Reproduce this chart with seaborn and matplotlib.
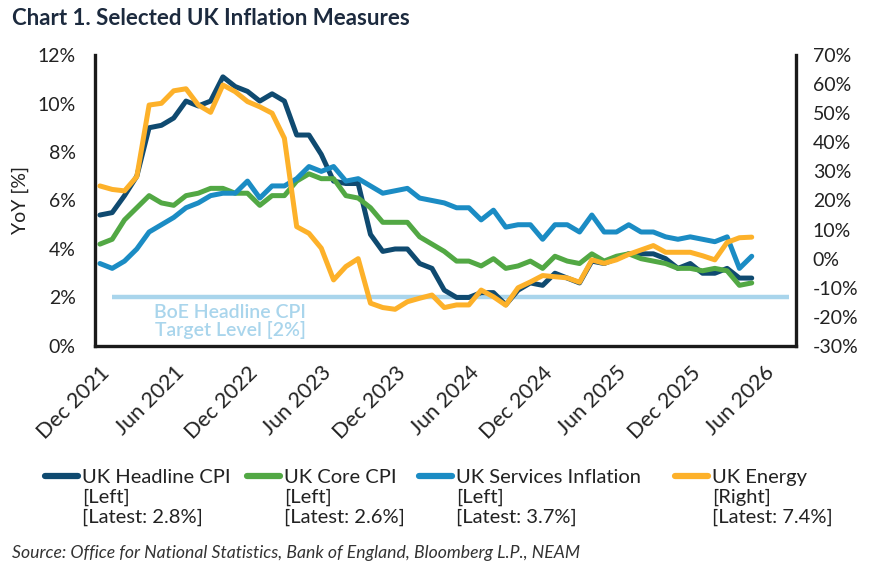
import numpy as np
import pandas as pd
import seaborn as sns
import matplotlib.pyplot as plt
from matplotlib.lines import Line2D
from matplotlib.ticker import FuncFormatter

# monthly YoY readings, first point = Dec 2021
headline = [5.4, 5.5, 6.2, 7.0, 9.0, 9.1, 9.4, 10.1, 9.9, 10.1, 11.1, 10.7, 10.5, 10.1,
            10.4, 10.1, 8.7, 8.7, 7.9, 6.8, 6.7, 6.7, 4.6, 3.9, 4.0, 4.0, 3.4, 3.2,
            2.3, 2.0, 2.0, 2.2, 2.2, 1.7, 2.3, 2.6, 2.5, 3.0, 2.8, 2.6, 3.5, 3.4,
            3.6, 3.8, 3.8, 3.8, 3.6, 3.2, 3.4, 3.0, 3.0, 3.2, 2.8, 2.8]
core = [4.2, 4.4, 5.2, 5.7, 6.2, 5.9, 5.8, 6.2, 6.3, 6.5, 6.5, 6.3, 6.3, 5.8,
        6.2, 6.2, 6.8, 7.1, 6.9, 6.9, 6.2, 6.1, 5.7, 5.1, 5.1, 5.1, 4.5, 4.2,
        3.9, 3.5, 3.5, 3.3, 3.6, 3.2, 3.3, 3.5, 3.2, 3.7, 3.5, 3.4, 3.8, 3.5,
        3.7, 3.8, 3.6, 3.5, 3.4, 3.2, 3.2, 3.1, 3.2, 3.1, 2.5, 2.6]
services = [3.4, 3.2, 3.5, 4.0, 4.7, 5.0, 5.3, 5.7, 5.9, 6.2, 6.3, 6.3, 6.8, 6.1,
            6.6, 6.6, 6.9, 7.4, 7.2, 7.4, 6.8, 6.9, 6.6, 6.3, 6.4, 6.5, 6.1, 6.0,
            5.9, 5.7, 5.7, 5.2, 5.6, 4.9, 5.0, 5.0, 4.4, 5.0, 5.0, 4.7, 5.4, 4.7,
            4.7, 5.0, 4.7, 4.7, 4.5, 4.4, 4.5, 4.4, 4.3, 4.5, 3.2, 3.7]
energy = [25.0, 23.8, 23.3, 28.2, 52.8, 53.4, 57.7, 58.4, 52.8, 50.3, 59.7, 57.4, 54.0, 52.2,
          50.0, 41.4, 11.0, 8.7, 3.6, -7.3, -2.7, 0.0, -15.3, -16.8, -17.4, -14.8, -13.6, -12.5,
          -16.8, -15.9, -15.9, -10.8, -13.1, -16.0, -10.0, -8.0, -5.8, -6.2, -6.6, -8.1, -0.4, -1.6,
          -0.4, 1.5, 3.0, 4.5, 2.2, 2.2, 2.2, 1.0, -0.4, 5.6, 7.2, 7.4]
target_level = 2.0

tick_labels = ["Dec 2021", "Jun 2021", "Dec 2022", "Jun 2023", "Dec 2023",
               "Jun 2024", "Dec 2024", "Jun 2025", "Dec 2025", "Jun 2026"]

series_names = ["UK Headline CPI", "UK Core CPI", "UK Services Inflation", "UK Energy"]
series_sides = ["[Left]", "[Left]", "[Left]", "[Right]"]
series_latest = ["[Latest: 2.8%]", "[Latest: 2.6%]", "[Latest: 3.7%]", "[Latest: 7.4%]"]

colors = ["#0f4a70", "#52a844", "#1b8cc4", "#fdb12a"]
target_color = "#a9d5ec"

df = pd.DataFrame({"month": np.arange(len(headline)), "headline": headline,
                   "core": core, "services": services, "energy": energy})

sns.set_theme(style="white")
plt.rcParams["font.family"] = ["Lato", "DejaVu Sans"]

fig = plt.figure(figsize=(8.82, 5.69), dpi=100)
ax = fig.add_axes([0.1077, 0.392, 0.7948, 0.5113])
ax2 = ax.twinx()

lw = 3.6
ax.hlines(target_level, 1, 56, color=target_color, lw=3.2, zorder=1)
sns.lineplot(data=df, x="month", y="headline", ax=ax, color=colors[0], lw=lw)
sns.lineplot(data=df, x="month", y="core", ax=ax, color=colors[1], lw=lw)
sns.lineplot(data=df, x="month", y="services", ax=ax, color=colors[2], lw=lw)
sns.lineplot(data=df, x="month", y="energy", ax=ax2, color=colors[3], lw=lw)

ax.text(10.6, 1.72, "BoE Headline CPI\nTarget Level [2%]", color=target_color,
        ha="center", va="top", fontsize=14, fontweight="semibold", linespacing=0.95)

ax.set_xlim(-0.4, 56.6)
ax.set_ylim(0, 12)
ax2.set_ylim(-30, 70)
ax.set_yticks(np.arange(0, 13, 2))
ax2.set_yticks(np.arange(-30, 71, 10))
pct = FuncFormatter(lambda v, p: f"{v:.0f}%")
ax.yaxis.set_major_formatter(pct)
ax2.yaxis.set_major_formatter(pct)
ax.set_xticks(np.arange(0, 55, 6))
ax.set_xticklabels(tick_labels, rotation=45, ha="right", rotation_mode="anchor",
                   fontsize=15.5, color="#222222")
ax.tick_params(axis="x", length=0, pad=12)
ax.tick_params(axis="y", length=0, pad=14, labelsize=14, labelcolor="#222222")
ax2.tick_params(axis="y", length=0, pad=12, labelsize=14, labelcolor="#222222")
ax.set_xlabel("")
ax.set_ylabel("YoY [%]", fontsize=14, color="#222222", labelpad=6)
ax2.set_ylabel("")

for a in (ax, ax2):
    a.grid(False)
    a.spines["top"].set_visible(False)
    for s in ("left", "bottom", "right"):
        a.spines[s].set_color("#1a1a1a")
        a.spines[s].set_linewidth(2.4)
ax.spines["right"].set_visible(False)
ax2.spines["left"].set_visible(False)
ax2.spines["bottom"].set_visible(False)

fig.text(0.014, 0.968, "Chart 1. Selected UK Inflation Measures", fontsize=16,
         fontweight="bold", color="#1c2a3e", va="center")

# legend drawn by hand: handle beside first line, three text lines per entry
handle_x = [45, 247, 419, 675]
for i in range(4):
    x0 = handle_x[i] / 882
    y0 = 1 - 476 / 569
    fig.add_artist(Line2D([x0, x0 + 33 / 882], [y0, y0], color=colors[i], lw=4.5,
                          solid_capstyle="round", transform=fig.transFigure))
    fig.text(x0 + 37 / 882, y0 + 0.013,
             series_names[i] + "\n" + series_sides[i] + "\n" + series_latest[i],
             fontsize=14.5, color="#222222", va="top", ha="left", linespacing=1.2,
             transform=fig.transFigure)

fig.text(0.014, 1 - 553 / 569, "Source: Office for National Statistics, Bank of England, Bloomberg L.P., NEAM",
         fontsize=12.7, style="italic", color="#333333", va="center")

fig.savefig("out.png", dpi=100)
